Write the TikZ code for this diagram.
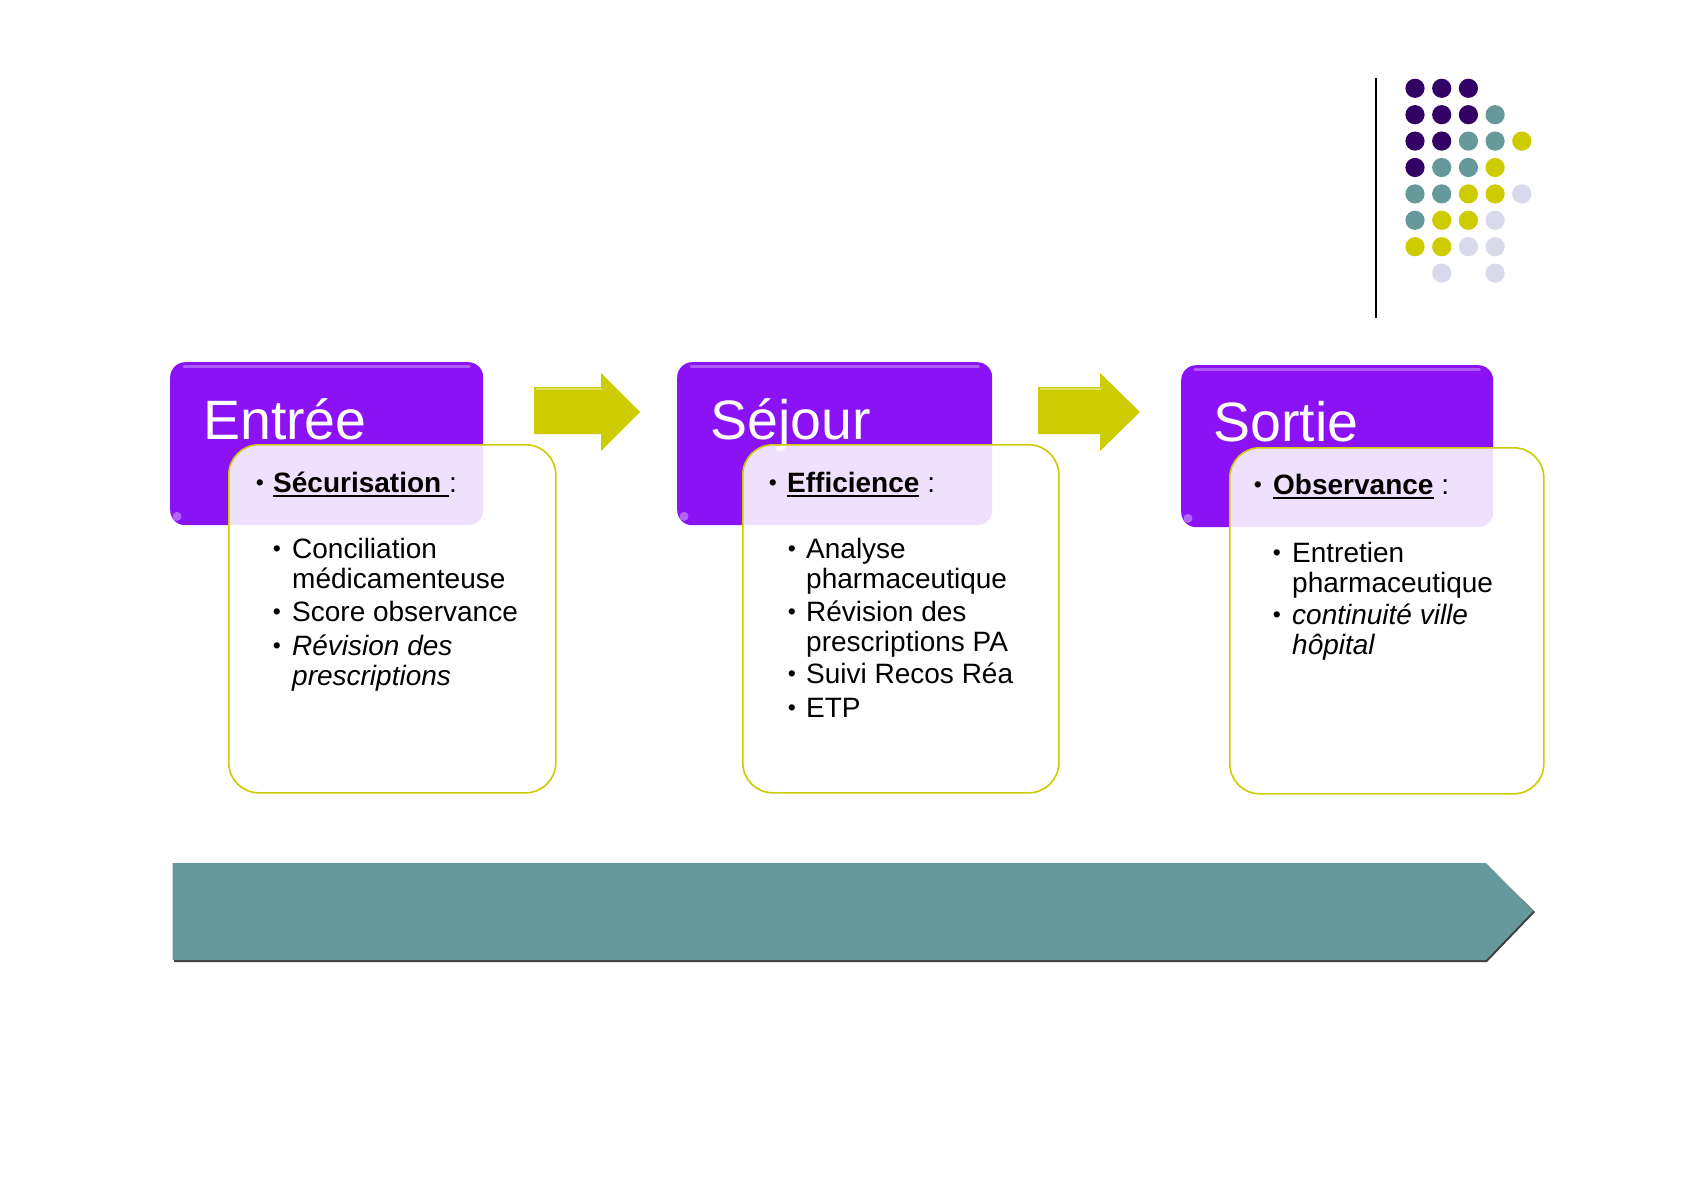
\documentclass[tikz,border=0pt]{standalone}
\usepackage{fontspec}
\setmainfont{Liberation Sans}
\usetikzlibrary{calc}
\definecolor{vio}{RGB}{138,18,245}
\definecolor{viohi}{RGB}{185,110,252}
\definecolor{ygreen}{RGB}{204,204,0}
\definecolor{ygreenhi}{RGB}{225,225,90}
\definecolor{tealb}{RGB}{102,153,153}
\definecolor{indig}{RGB}{51,0,102}
\definecolor{lavd}{RGB}{217,217,236}
\newsavebox\ulbox
\newcommand\ulword[1]{\sbox\ulbox{#1}\rlap{\rule[-4.5pt]{\wd\ulbox}{2pt}}\usebox\ulbox}
\begin{document}
\begin{tikzpicture}[x=1pt,y=-1pt,
  pbox/.style={anchor=north west, fill=vio, rounded corners=15pt, inner sep=0pt, draw=none},
  wbox/.style={anchor=north west, fill=white, fill opacity=0.87, draw=ygreen, line width=1.6pt, rounded corners=30pt, inner sep=0pt},
  ttl/.style={anchor=base west, inner sep=0pt, text=white, font=\fontsize{55.5}{60}\selectfont},
  txt/.style={anchor=base west, inner sep=0pt, font=\fontsize{28}{33}\selectfont},
  blt/.style={anchor=base, inner sep=0pt, yshift=1.5pt, font=\fontsize{23}{26}\selectfont},
  yarrow/.style={fill=ygreen}
]
\fill[white] (0,0) rectangle (1684,1190);
\useasboundingbox (0,0) rectangle (1684,1190);

% ---- decoration top right
\draw[black, line width=2pt] (1376,78) -- (1376,318);
\foreach \c/\r/\col in {1/1/indig,2/1/indig,3/1/indig,
  1/2/indig,2/2/indig,3/2/indig,4/2/tealb,
  1/3/indig,2/3/indig,3/3/tealb,4/3/tealb,5/3/ygreen,
  1/4/indig,2/4/tealb,3/4/tealb,4/4/ygreen,
  1/5/tealb,2/5/tealb,3/5/ygreen,4/5/ygreen,5/5/lavd,
  1/6/tealb,2/6/ygreen,3/6/ygreen,4/6/lavd,
  1/7/ygreen,2/7/ygreen,3/7/lavd,4/7/lavd,
  2/8/lavd,4/8/lavd}
  \fill[\col] ({1415+(\c-1)*26.7},{88.3+(\r-1)*26.4}) circle[radius=9.6];

% ---- purple header boxes
\node[pbox, minimum width=313pt, minimum height=163pt] (pb1) at (170,362) {};
\node[pbox, minimum width=315pt, minimum height=163pt] (pb2) at (677,362) {};
\node[pbox, minimum width=312pt, minimum height=162pt] (pb3) at (1181,365) {};
\foreach \b in {pb1,pb2,pb3}{
  \draw[viohi, line width=3pt, opacity=0.8, line cap=round]
    ([xshift=14pt,yshift=-4pt]\b.north west) -- ([xshift=-14pt,yshift=-4pt]\b.north east);
  \fill[viohi, opacity=0.9] ([xshift=7pt,yshift=9pt]\b.south west) circle[radius=4.5];
}

% ---- titles
\node[ttl] (t1) at (203,439) {Entrée};
\node[ttl] (t2) at (710,439) {Séjour};
\node[ttl] (t3) at (1213,441) {Sortie};

% ---- white content boxes
\node[wbox, minimum width=327pt, minimum height=348pt] (wb1) at (228,444) {};
\node[wbox, minimum width=316pt, minimum height=348pt] (wb2) at (742,444) {};
\node[wbox, minimum width=314pt, minimum height=346pt] (wb3) at (1229,447) {};

% ---- block arrows
\fill[yarrow] (534,387) -- (601,387) -- (601,373) -- (640,412) -- (601,451) -- (601,434) -- (534,434) -- cycle;
\draw[ygreenhi, line width=2pt] (536,388.5) -- (602,388.5);
\fill[yarrow] (1038,387) -- (1100,387) -- (1100,373) -- (1140,412) -- (1100,451) -- (1100,434) -- (1038,434) -- cycle;
\draw[ygreenhi, line width=2pt] (1040,388.5) -- (1101,388.5);

% ---- bottom arrow
\fill[black!75] (174,865) -- (1487,865) -- (1535,912) -- (1487,962) -- (174,962) -- cycle;
\fill[tealb] (172.7,863) -- (1486,863) -- (1533,911) -- (1486,960) -- (172.7,960) -- cycle;

% ---- Entree content
\node[blt] (b1h) at (260,492) {•};
\node[txt] (h1) at (273,492) {\ulword{\bfseries Sécurisation }:};
\node[blt] (b11) at (277,558) {•};
\node[txt] (e11) at (292,558) {Conciliation};
\node[txt] (e12) at (292,588) {médicamenteuse};
\node[blt] (b12) at (277,621) {•};
\node[txt] (e13) at (292,621) {Score observance};
\node[blt] (b13) at (277,655) {•};
\node[txt] (e14) at (292,655) {\itshape Révision des};
\node[txt] (e15) at (292,685) {\itshape prescriptions};

% ---- Sejour content
\node[blt] (b2h) at (773,492) {•};
\node[txt] (h2) at (787,492) {\ulword{\bfseries Efficience} :};
\node[blt] (b21) at (792,558) {•};
\node[txt] (s11) at (806,558) {Analyse};
\node[txt] (s12) at (806,588) {pharmaceutique};
\node[blt] (b22) at (792,621) {•};
\node[txt] (s13) at (806,621) {Révision des};
\node[txt] (s14) at (806,651) {prescriptions PA};
\node[blt] (b23) at (792,683) {•};
\node[txt] (s15) at (806,683) {Suivi Recos Réa};
\node[blt] (b24) at (792,717) {•};
\node[txt] (s16) at (806,717) {ETP};

% ---- Sortie content
\node[blt] (b3h) at (1258,494) {•};
\node[txt] (h3) at (1273,494) {\ulword{\bfseries Observance} :};
\node[blt] (b31) at (1277,562) {•};
\node[txt] (o11) at (1292,562) {Entretien};
\node[txt] (o12) at (1292,592) {pharmaceutique};
\node[blt] (b32) at (1277,624) {•};
\node[txt] (o13) at (1292,624) {\itshape continuité ville};
\node[txt] (o14) at (1292,654) {\itshape hôpital};
\end{tikzpicture}
\end{document}
